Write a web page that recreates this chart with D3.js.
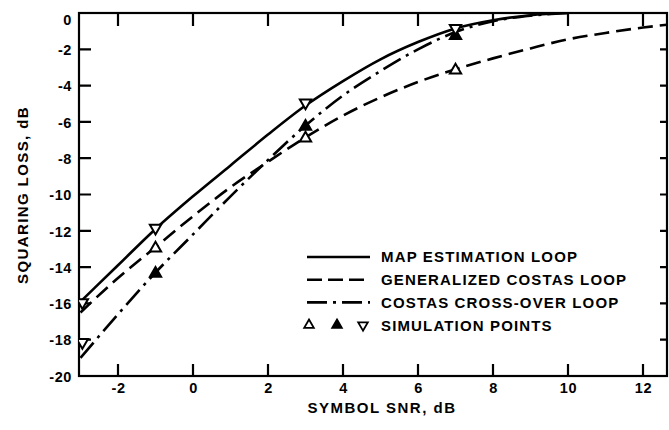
<!DOCTYPE html>
<html><head><meta charset="utf-8">
<script src="https://cdn.jsdelivr.net/npm/d3@7"></script>
<style>body{margin:0;background:#fff}svg{display:block}text{font-family:"Liberation Sans",Arial,sans-serif;fill:#000}</style>
</head><body><svg id="c" width="669" height="430"></svg>
<script>
// ---- data ----
const xTicks = [-2, 0, 2, 4, 6, 8, 10, 12];
const yTicks = [0, -2, -4, -6, -8, -10, -12, -14, -16, -18, -20];
const snrMap = [-3, -2, -1, 0, 1, 2, 3, 4, 5, 6, 7, 8, 9, 10];
const lossMap = [-15.9, -13.9, -11.9, -10.1, -8.4, -6.7, -5.1, -3.75, -2.55, -1.6, -0.85, -0.4, -0.12, 0];
const snrGen = [-3, -2, -1, 0, 1, 2, 3, 4, 5, 6, 7, 8, 9, 10, 11, 12, 12.64];
const lossGen = [-16.5, -14.6, -12.9, -11.2, -9.6, -8.2, -6.85, -5.65, -4.65, -3.8, -3.1, -2.5, -1.95, -1.45, -1.1, -0.8, -0.65];
const snrCross = [-3, -2, -1, 0, 1, 2, 3, 4, 5, 6, 7, 8, 9, 10];
const lossCross = [-19.0, -16.6, -14.3, -12.2, -10.1, -8.1, -6.2, -4.55, -3.2, -2.0, -1.05, -0.45, -0.15, 0];
const simUpOpenX = [-1, 3, 7];
const simUpOpenY = [-12.9, -6.85, -3.1];
const simUpFilledX = [-1, 3, 7];
const simUpFilledY = [-14.3, -6.2, -1.2];
const simDownX = [-2.95, -2.95, -1, 3, 7];
const simDownY = [-16.0, -18.2, -11.9, -5.0, -0.9];
const legendLabels = ["MAP ESTIMATION LOOP", "GENERALIZED COSTAS LOOP", "COSTAS CROSS-OVER LOOP", "SIMULATION POINTS"];

const svg = d3.select("#c");
const L = 79, R = 667, T = 13, B = 376;
const x = d3.scaleLinear().domain([-3.04, 12.64]).range([L, R]);
const y = d3.scaleLinear().domain([-20, 0]).range([B, T]);

svg.append("clipPath").attr("id", "clp").append("rect")
  .attr("x", L).attr("y", T).attr("width", R - L).attr("height", B - T);

// axes labels via d3 axes
const fmt = d => String(d);
const gB = svg.append("g").attr("transform", `translate(0,${B})`)
  .call(d3.axisBottom(x).tickValues(xTicks).tickSize(0).tickPadding(7).tickFormat(fmt));
const gL = svg.append("g").attr("transform", `translate(${L},0)`)
  .call(d3.axisLeft(y).tickValues(yTicks).tickSize(0).tickPadding(7).tickFormat(fmt));
[gB, gL].forEach(g => {
  g.select(".domain").remove();
  g.selectAll("text").attr("font-size", 14.5).attr("font-weight", "bold").attr("fill", "#000").style("letter-spacing", "0.6px");
});
gB.selectAll(".tick text").attr("dy", "0.71em");
gL.selectAll(".tick text").attr("dy", d => d === 0 ? "0.8em" : "0.36em");

// frame and inward ticks as one path built from the scales
let tp = d3.path();
xTicks.forEach(v => { tp.moveTo(x(v), B); tp.lineTo(x(v), B - 12); tp.moveTo(x(v), T); tp.lineTo(x(v), T + 13); });
yTicks.forEach(v => { tp.moveTo(L, y(v)); tp.lineTo(L + 12, y(v)); tp.moveTo(R, y(v)); tp.lineTo(R - 7, y(v)); });
svg.append("path").attr("d", tp.toString()).attr("fill", "none").attr("stroke", "#000").attr("stroke-width", 2.2);
svg.append("rect").attr("x", L).attr("y", T).attr("width", R - L).attr("height", B - T)
  .attr("fill", "none").attr("stroke", "#000").attr("stroke-width", 2.2);

// axis titles
svg.append("text").attr("x", 382).attr("y", 413).attr("text-anchor", "middle")
  .attr("font-size", 15).attr("font-weight", "bold").style("letter-spacing", "1.5px").text("SYMBOL SNR, dB");
svg.append("text").attr("transform", "translate(28,195) rotate(-90)").attr("text-anchor", "middle")
  .attr("font-size", 15).attr("font-weight", "bold").style("letter-spacing", "1.4px").text("SQUARING LOSS, dB");

// curves
const plot = svg.append("g").attr("clip-path", "url(#clp)");
const line = d3.line().x(d => x(d[0])).y(d => y(d[1])).curve(d3.curveMonotoneX);
const styles = [
  {xs: snrMap, ys: lossMap, dash: null},
  {xs: snrGen, ys: lossGen, dash: "15,7"},
  {xs: snrCross, ys: lossCross, dash: "20,6,3,6"}
];
styles.forEach(s => {
  plot.append("path").datum(d3.zip(s.xs, s.ys)).attr("d", line)
    .attr("fill", "none").attr("stroke", "#000").attr("stroke-width", 2.6)
    .attr("stroke-dasharray", s.dash);
});

// simulation points
const tri = d3.symbol().type(d3.symbolTriangle).size(55);
function pts(xs, ys, fill, rot) {
  plot.append("g").selectAll("path").data(d3.zip(xs, ys)).join("path")
    .attr("d", tri)
    .attr("transform", d => `translate(${x(d[0])},${y(d[1]) + (rot ? -1 : 1)}) rotate(${rot})`)
    .attr("fill", fill).attr("stroke", "#000").attr("stroke-width", 2);
}
pts(simUpOpenX, simUpOpenY, "#fff", 0);
pts(simUpFilledX, simUpFilledY, "#000", 0);
pts(simDownX, simDownY, "#fff", 180);

// legend
const lg = svg.append("g");
const lx0 = 307, lx1 = 370, ly0 = 257, ldy = 22.7;
const dashes = [null, "15,6", "20,6,3,6"];
dashes.forEach((d, i) => {
  lg.append("line").attr("x1", lx0).attr("x2", lx1).attr("y1", ly0 + i * ldy).attr("y2", ly0 + i * ldy)
    .attr("stroke", "#000").attr("stroke-width", 2.6).attr("stroke-dasharray", d);
});
const sy = ly0 + 3 * ldy;
[[309, "#fff", 0], [337, "#000", 0], [363, "#fff", 180]].forEach(s => {
  lg.append("path").attr("d", d3.symbol().type(d3.symbolTriangle).size(40))
    .attr("transform", `translate(${s[0]},${sy}) rotate(${s[2]})`)
    .attr("fill", s[1]).attr("stroke", "#000").attr("stroke-width", 1.8);
});
legendLabels.forEach((t, i) => {
  lg.append("text").attr("x", 381).attr("y", ly0 + i * ldy).attr("dy", "0.36em")
    .attr("font-size", 15).attr("font-weight", "bold").style("letter-spacing", "1.15px").text(t);
});
</script></body></html>
